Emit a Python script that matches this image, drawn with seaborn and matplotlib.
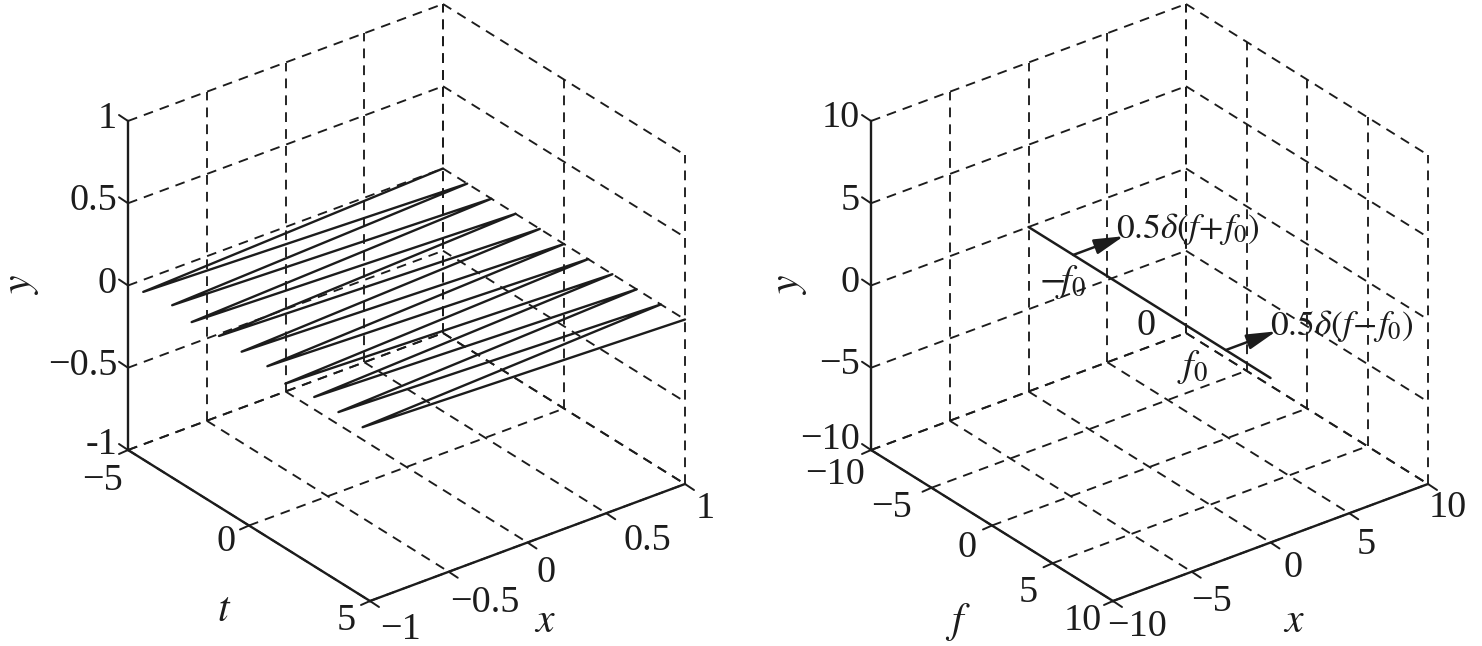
import numpy as np
import pandas as pd
import matplotlib
matplotlib.use("Agg")
import matplotlib.pyplot as plt
import seaborn as sns

# ---- data ----
t_samples = [-5, -4.5, -4, -3.5, -3, -2.5, -2, -1.5, -1, -0.5, 0, 0.5, 1, 1.5, 2, 2.5, 3, 3.5, 4, 4.5, 5]
x_samples = [1, -0.98, 1, -0.95, 1, -0.98, 1, -0.96, 1, -0.97, 1, -0.96, 1, -1, 1, -0.97, 1, -0.97, 1, -0.97, 1]
y_level = [0]

f_line = [-10, 10]
f0 = [-6.3, 6.3]
arrow_len = [3.2]

left_ticks_t = [-5, 0, 5]
left_ticks_x = [-1, -0.5, 0, 0.5, 1]
left_ticks_y = [-1, -0.5, 0, 0.5, 1]
left_lab_t = ["\u22125", "0", "5"]
left_lab_x = ["\u22121", "\u22120.5", "0", "0.5", "1"]
left_lab_y = ["-1", "\u22120.5", "0", "0.5", "1"]

right_ticks = [-10, -5, 0, 5, 10]
right_lab_t = ["\u221210", "\u22125", "0", "5", "10"]
right_lab_x = ["\u221210", "\u22125", "0", "5", "10"]
right_lab_y = ["\u221210", "\u22125", "0", "5", "10"]

sns.set_theme(style="white")
plt.rcParams["font.family"] = ["Liberation Serif", "DejaVu Serif"]
plt.rcParams["mathtext.fontset"] = "stix"

W, H = 1482, 646
fig = plt.figure(figsize=(W / 100, H / 100), dpi=100, facecolor="white")
INK = "#1c1c1c"
FS = 27.5


def make_axes(x0, x1):
    ax = fig.add_axes([x0 / W, 0, (x1 - x0) / W, 1])
    ax.set_xlim(x0, x1)
    ax.set_ylim(H, 0)
    ax.axis("off")
    return ax


class Box:
    """Affine oblique view of a 3-D box, as in a MATLAB plot3 view."""

    def __init__(self, ax, origin, tvec, xvec, height, tlim, xlim, ylim):
        self.ax, self.o, self.tv, self.xv, self.h = ax, np.array(origin, float), np.array(tvec, float), np.array(xvec, float), height
        self.tl, self.xl, self.yl = tlim, xlim, ylim

    def p(self, t, x, y):
        a = (np.asarray(t, float) - self.tl[0]) / (self.tl[1] - self.tl[0])
        b = (np.asarray(x, float) - self.xl[0]) / (self.xl[1] - self.xl[0])
        c = (np.asarray(y, float) - self.yl[0]) / (self.yl[1] - self.yl[0])
        return (self.o[0] + a * self.tv[0] + b * self.xv[0],
                self.o[1] + a * self.tv[1] + b * self.xv[1] - c * self.h)

    def seg(self, a, b, dashed=True):
        px = self.p(*a)
        qx = self.p(*b)
        if dashed:
            self.ax.plot([px[0], qx[0]], [px[1], qx[1]], color=INK, lw=1.35,
                         dashes=(5.2, 3.8), dash_capstyle="butt", zorder=1)
        else:
            self.ax.plot([px[0], qx[0]], [px[1], qx[1]], color=INK, lw=1.7,
                         solid_capstyle="projecting", zorder=3)

    def frame(self, tt, xt, yt):
        t0, t1 = self.tl
        x0, x1 = self.xl
        y0, y1 = self.yl
        for x in xt:
            self.seg((t0, x, y0), (t0, x, y1))
            self.seg((t0, x, y0), (t1, x, y0))
        for t in tt:
            self.seg((t, x1, y0), (t, x1, y1))
            self.seg((t, x0, y0), (t, x1, y0))
        for y in yt:
            self.seg((t0, x0, y), (t0, x1, y))
            self.seg((t0, x1, y), (t1, x1, y))
        self.seg((t0, x0, y0), (t0, x0, y1), dashed=False)
        self.seg((t0, x0, y0), (t1, x0, y0), dashed=False)
        self.seg((t1, x0, y0), (t1, x1, y0), dashed=False)
        # tick marks
        for y in yt:
            a = self.p(t0, x0, y)
            self.ax.plot([a[0], a[0] - 9], [a[1], a[1] - 6], color=INK, lw=1.4, zorder=3)
        for t in tt:
            a = self.p(t, x0, y0)
            self.ax.plot([a[0], a[0] - 9], [a[1], a[1] + 4], color=INK, lw=1.4, zorder=3)
        for x in xt:
            a = self.p(t1, x, y0)
            self.ax.plot([a[0], a[0] + 9], [a[1], a[1] + 6], color=INK, lw=1.4, zorder=3)


def lab(ax, x, y, s, **kw):
    kw.setdefault("ha", "center")
    kw.setdefault("va", "center")
    kw.setdefault("fontsize", FS)
    ax.text(x, y, s, color=INK, **kw)


# ---- left panel ----
axL = make_axes(0, 741)
L = Box(axL, (128, 450), (242, 151), (315, -117), 329, (-5, 5), (-1, 1), (-1, 1))
L.frame(left_ticks_t, left_ticks_x, left_ticks_y)
sx, sy = L.p(t_samples, x_samples, np.full(len(t_samples), y_level[0]))
sns.lineplot(data=pd.DataFrame({"px": sx, "py": sy}), x="px", y="py", ax=axL, sort=False,
             estimator=None, color=INK, lw=1.7, zorder=4, legend=False)
axL.set_xlim(0, 741)
axL.set_ylim(H, 0)
axL.axis("off")

for v, s, dy in zip(left_ticks_y, left_lab_y, [-5, -2, -2, -2, -2]):
    a = L.p(-5, -1, v)
    lab(axL, a[0] - 11, a[1] + dy, s, ha="right")
for v, s, off in zip(left_ticks_t, left_lab_t, [(-25, 31), (-23, 16), (-24, 20)]):
    a = L.p(v, -1, -1)
    lab(axL, a[0] + off[0], a[1] + off[1], s)
for v, s, off in zip(left_ticks_x, left_lab_x, [(30, 29), (36, 31), (19, 30), (41, 28), (20, 25)]):
    a = L.p(5, v, -1)
    lab(axL, a[0] + off[0], a[1] + off[1], s)
lab(axL, 22, 285, "$y$", rotation=90, fontsize=30)
lab(axL, 224, 611, "$t$", fontsize=30)
lab(axL, 545, 622, "$x$", fontsize=30)

# ---- right panel ----
axR = make_axes(741, 1482)
R = Box(axR, (871, 450), (242, 151), (315, -117), 329, (-10, 10), (-10, 10), (-10, 10))
R.frame(right_ticks, right_ticks, right_ticks)
fx, fy = R.p(f_line, [0, 0], [0, 0])
sns.lineplot(data=pd.DataFrame({"px": fx, "py": fy}), x="px", y="py", ax=axR, sort=False,
             estimator=None, color=INK, lw=1.8, zorder=4, legend=False)
axR.set_xlim(741, 1482)
axR.set_ylim(H, 0)
axR.axis("off")

for f in f0:
    a = R.p(f, 0, 0)
    b = R.p(f, arrow_len[0], 0)
    axR.annotate("", xy=b, xytext=a, zorder=5,
                 arrowprops=dict(arrowstyle="-|>,head_length=1.0,head_width=0.26", color=INK, lw=1.8,
                                 shrinkA=0, shrinkB=0, mutation_scale=18))

for v, s, dy in zip(right_ticks, right_lab_y, [-10, -3, -3, -3, -3]):
    a = R.p(-10, -10, v)
    lab(axR, a[0] - 11, a[1] + dy, s, ha="right")
for v, s, off in zip(right_ticks, right_lab_t, [(-36, 25), (-40, 20), (-25, 22), (-24, 30), (-30, 20)]):
    a = R.p(v, -10, -10)
    lab(axR, a[0] + off[0], a[1] + off[1], s)
for v, s, off in zip(right_ticks, right_lab_x, [(24, 26), (20, 30), (23, 25), (17, 31), (20, 24)]):
    a = R.p(10, v, -10)
    lab(axR, a[0] + off[0], a[1] + off[1], s)
lab(axR, 790, 285, "$y$", rotation=90, fontsize=30)
lab(axR, 958, 622, "$f$", fontsize=30)
lab(axR, 1294, 622, "$x$", fontsize=30)
lab(axR, 1188, 229, r"$0.5\delta(f\!+\!f_0)$", fontsize=25.5)
lab(axR, 1342, 326, r"$0.5\delta(f\!-\!f_0)$", fontsize=25.5)
lab(axR, 1062, 282, r"$-\!f_0$")
lab(axR, 1146, 326, "0")
lab(axR, 1193, 367, r"$f_0$")

fig.savefig("out.png", dpi=100, facecolor="white")
